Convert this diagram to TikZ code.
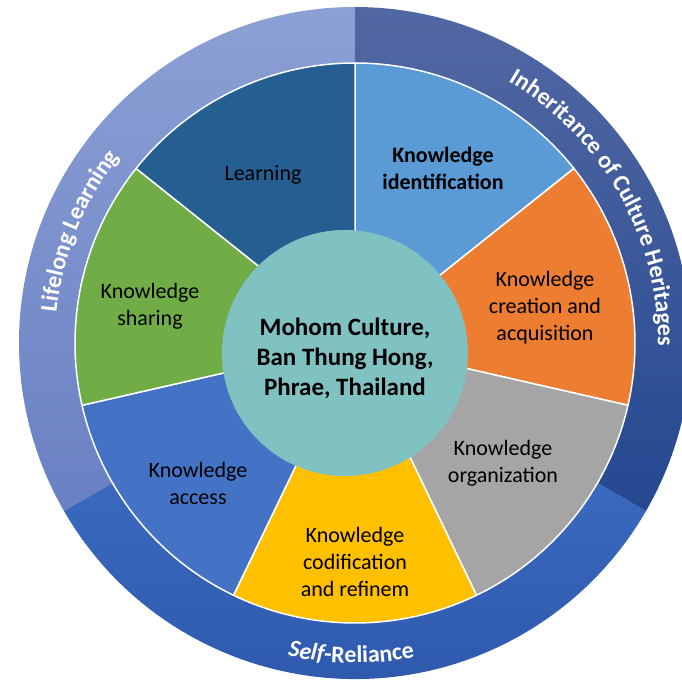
\documentclass[tikz,border=0pt]{standalone}
\usepackage{fontspec}
\setmainfont{Carlito}
\usetikzlibrary{decorations.text}
\definecolor{cLearn}{HTML}{255E91}
\definecolor{cIdent}{HTML}{5B9BD5}
\definecolor{cCreate}{HTML}{ED7D31}
\definecolor{cOrg}{HTML}{A5A5A5}
\definecolor{cCodif}{HTML}{FFC000}
\definecolor{cAccess}{HTML}{4472C4}
\definecolor{cShare}{HTML}{70AD47}
\definecolor{cCenter}{HTML}{80C2C1}
\definecolor{llTop}{HTML}{8CA0D5}
\definecolor{llBot}{HTML}{6980C3}
\definecolor{ihTop}{HTML}{5268A3}
\definecolor{ihBot}{HTML}{254891}
\definecolor{srTop}{HTML}{3A69BE}
\definecolor{srBot}{HTML}{2C56AA}
\newcommand{\segfont}{\fontsize{22}{27}\selectfont}
\newcommand{\cenfont}{\fontsize{25}{30}\selectfont\bfseries}
\newcommand{\arcfont}{\fontsize{24}{28}\selectfont\bfseries}
\begin{document}
\begin{tikzpicture}[x=1pt,y=1pt,
  seg/.style={draw=white, line width=1.5pt, line join=round},
  lbl/.style={align=center, font=\segfont, text=black, inner sep=0pt},
  arctext/.style={decorate, decoration={text along path, text align=center, text color=white}}]
\useasboundingbox (-355,-337) rectangle (327,343);
\fill[white] (-355,-337) rectangle (327,343);
% outer ring sections
\shade[top color=llTop, bottom color=llBot] (90:336) arc[start angle=90,end angle=210,radius=336] -- (210:280) arc[start angle=210,end angle=90,radius=280] -- cycle;
\shade[top color=srTop, bottom color=srBot] (210:336) arc[start angle=210,end angle=330,radius=336] -- (330:280) arc[start angle=330,end angle=210,radius=280] -- cycle;
\shade[top color=ihTop, bottom color=ihBot] (-30:336) arc[start angle=-30,end angle=90,radius=336] -- (90:280) arc[start angle=90,end angle=-30,radius=280] -- cycle;
% segments
\filldraw[seg, fill=cIdent] (0,0) -- (38.571:280) arc[start angle=38.571,end angle=90,radius=280] -- cycle;
\filldraw[seg, fill=cCreate] (0,0) -- (-12.857:280) arc[start angle=-12.857,end angle=38.571,radius=280] -- cycle;
\filldraw[seg, fill=cOrg] (0,0) -- (-64.286:280) arc[start angle=-64.286,end angle=-12.857,radius=280] -- cycle;
\filldraw[seg, fill=cCodif] (0,0) -- (-115.714:280) arc[start angle=-115.714,end angle=-64.286,radius=280] -- cycle;
\filldraw[seg, fill=cAccess] (0,0) -- (-167.143:280) arc[start angle=-167.143,end angle=-115.714,radius=280] -- cycle;
\filldraw[seg, fill=cShare] (0,0) -- (141.429:280) arc[start angle=141.429,end angle=192.857,radius=280] -- cycle;
\filldraw[seg, fill=cLearn] (0,0) -- (90:280) arc[start angle=90,end angle=141.429,radius=280] -- cycle;
% center circle
\node[circle, fill=cCenter, minimum size=246pt, inner sep=0pt] (core) at (-10,-10) {};
\node[align=center, font=\cenfont, inner sep=0pt] (coretext) at (-10,-15) {Mohom Culture,\\Ban Thung Hong,\\Phrae, Thailand};
% segment labels
\node[lbl] (learn) at (-92,168) {Learning};
\node[lbl, font=\segfont\bfseries] (ident) at (88,174.5) {Knowledge\\identification};
\node[lbl] (create) at (190,35) {Knowledge\\creation and\\acquisition};
\node[lbl] (org) at (148,-120) {Knowledge\\organization};
\node[lbl] (codif) at (0,-218.5) {Knowledge\\codification\\and refinem};
\node[lbl] (access) at (-157,-140) {Knowledge\\access};
\node[lbl] (share) at (-205,36.5) {Knowledge\\sharing};
% ring texts
\path[arctext, decoration={text={|\arcfont|Lifelong Learning}}] (198:300) arc[start angle=198,end angle=118,radius=300];
\path[arctext, decoration={text={|\arcfont|Inheritance of Culture Heritages}}] (80:303) arc[start angle=80,end angle=-21,radius=303];
\path[arctext, decoration={text={|\arcfont\itshape|Self|\arcfont\upshape|-Reliance}}] (-130.7:320) arc[start angle=-130.7,end angle=-50.7,radius=320];
\end{tikzpicture}
\end{document}
